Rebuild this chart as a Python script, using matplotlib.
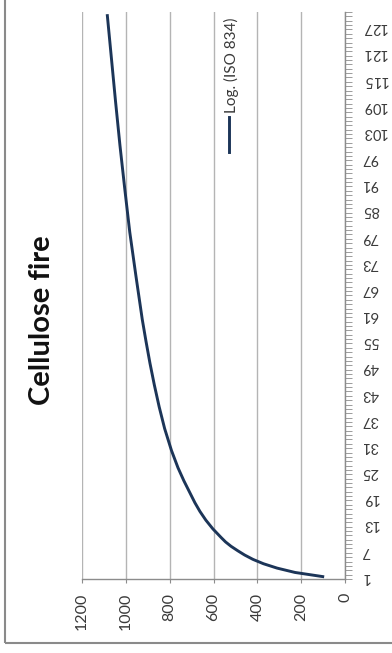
import numpy as np
import matplotlib
matplotlib.use("Agg")
import matplotlib.pyplot as plt
from matplotlib.lines import Line2D
from matplotlib.patches import Rectangle

plt.rcParams['font.family'] = ['Lato', 'DejaVu Sans']

# Temperature of the cellulose fire curve (log. trend of ISO 834), per minute
minutes = [1, 2, 3, 4, 5, 6, 7, 8, 9, 10, 12, 14, 16, 18, 20, 23, 26, 30, 35, 40,
           45, 50, 55, 60, 70, 80, 90, 100, 110, 120, 130]
temperature = [95, 228, 310, 372, 420, 458, 490, 520, 545, 565, 603, 635, 662, 685, 705,
               735, 762, 792, 823, 848, 870, 890, 908, 925, 954, 982, 1005, 1027, 1047,
               1066, 1085]

value_ticks = [0, 200, 400, 600, 800, 1000, 1200]
minute_labels = list(range(1, 128, 6))
n_minutes = 130

title = "Cellulose fire"
series_name = "Log. (ISO 834)"

line_color = '#1c3558'
axis_color = '#8c8c8c'
grid_color = '#b4b4b4'
text_color = '#3a3a3a'

W, H = 392, 653
fig = plt.figure(figsize=(W / 100, H / 100), dpi=100)

# chart is laid out turned a quarter turn: temperature runs right-to-left, minutes bottom-to-top
ax = fig.add_axes([82 / W, 1 - 579 / H, (345 - 82) / W, (579 - 12) / H])
ax.plot(temperature, minutes, color=line_color, lw=2.1, solid_capstyle='butt', zorder=3)

ax.set_xlim(1200, 0)
ax.set_ylim(0.5, n_minutes + 0.5)

ax.set_xticks(value_ticks)
ax.set_xticklabels([str(v) for v in value_ticks], rotation=90, fontsize=11.5, color=text_color)
ax.tick_params(axis='x', length=3, width=0.8, color=axis_color, pad=7)

ax.yaxis.tick_right()
ax.set_yticks(minute_labels)
ax.set_yticklabels([str(m) for m in minute_labels], rotation=180, fontsize=10.5,
                   color=text_color, va='center')
ax.set_yticks(np.arange(0.5, n_minutes + 1, 1), minor=True)
ax.tick_params(axis='y', which='major', length=0, pad=12)
ax.tick_params(axis='y', which='minor', length=5, width=0.6, color=axis_color, right=True, left=False)

ax.grid(axis='x', color=grid_color, lw=1.0)
ax.set_axisbelow(True)
for side in ['left', 'top']:
    ax.spines[side].set_visible(False)
for side in ['bottom', 'right']:
    ax.spines[side].set_color(axis_color)
    ax.spines[side].set_linewidth(1.0)

# title and legend entry, turned with the chart
fig.text(42 / W, 1 - 320 / H, title, rotation=90, ha='center', va='center',
         fontsize=21, fontweight='bold', color='#111111')
fig.add_artist(Line2D([229 / W, 229 / W], [1 - 152 / H, 1 - 117 / H],
                      color=line_color, lw=2.1, transform=fig.transFigure))
fig.text(231 / W, 1 - 113 / H, series_name, rotation=90, ha='center', va='bottom',
         fontsize=11, color=text_color)

# outer chart border
fig.add_artist(Rectangle((5 / W, 1 - 643 / H), 2.0, 2.0, transform=fig.transFigure,
                         fill=False, edgecolor='#8a8a8a', lw=1.5))

fig.savefig('out.png', dpi=100)
